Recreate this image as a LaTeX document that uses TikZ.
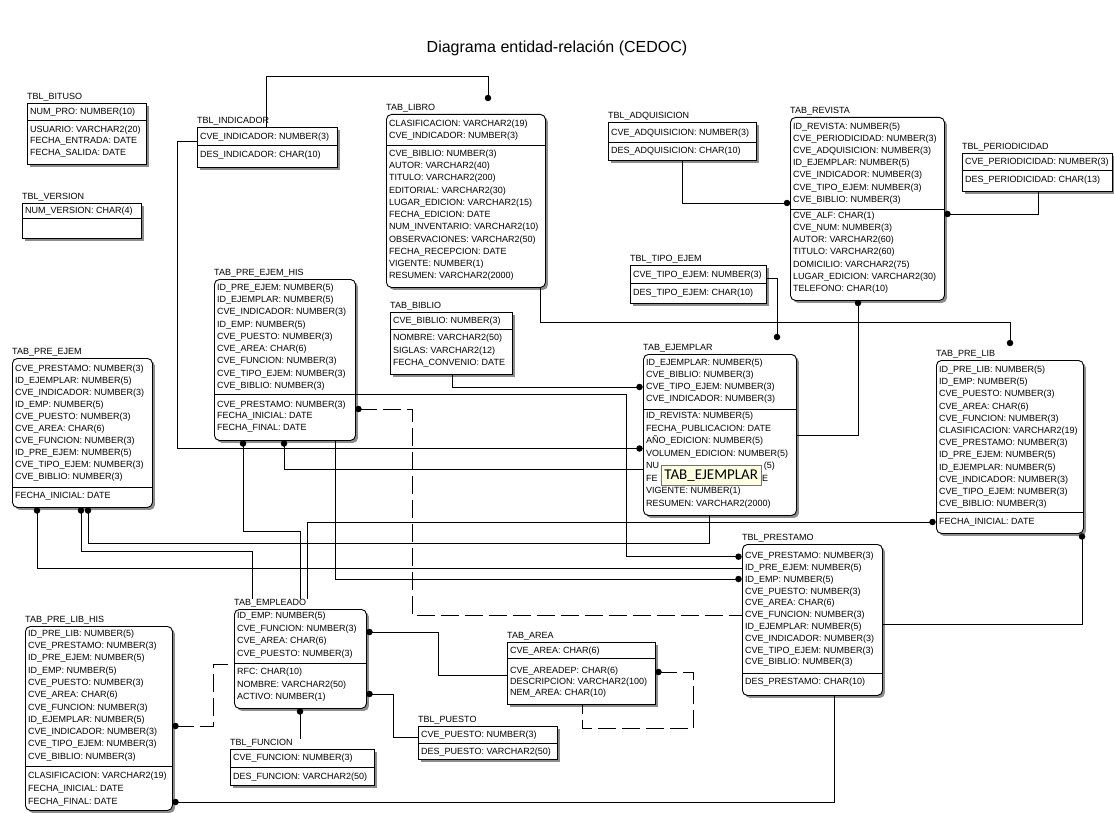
\documentclass[tikz,border=0pt]{standalone}
\usepackage{fontspec}
\setmainfont{Liberation Sans}
\newfontfamily\tipfont{Carlito}
\usetikzlibrary{shadows}
\definecolor{tipbg}{RGB}{255,255,225}

\tikzset{
  ent/.style={draw=black, line width=0.9pt, fill=white, inner sep=0pt, anchor=north west,
    drop shadow={shadow xshift=2.5pt, shadow yshift=-2.5pt, fill=black!45, opacity=1}},
  sq/.style={ent, rectangle},
  rd/.style={ent, rounded corners=5pt},
  lbl/.style={anchor=base west, inner sep=0pt, font=\fontsize{9}{11}\selectfont},
  rowtxt/.style={anchor=base west, inner sep=0pt},
  frag/.style={inner sep=0pt, font=\fontsize{9}{11}\selectfont},
  sepl/.style={line width=0.9pt},
  conn/.style={line width=0.9pt},
  dsh/.style={conn, dash pattern=on 18pt off 6pt},
  dotc/.style={fill=black, draw=none, circle, minimum size=6.5pt, inner sep=0pt},
  tip/.style={anchor=north west, draw=black!55, fill=tipbg, minimum width=100pt,
    minimum height=20pt, inner sep=0pt, font=\tipfont\fontsize{15}{17}\selectfont},
}

% \erbox{name}{style}{x}{y}{width}{height}{separator offset}{label}
\newcommand{\erbox}[8]{%
  \node[#2, minimum width=#5pt, minimum height=#6pt] (#1) at (#3,#4) {};
  \node[lbl] (#1-lbl) at ({#3},{#4-3.5}) {#8};
  \draw[sepl] ({#3},{#4+#7}) -- ({#3+#5},{#4+#7});
}
% \erows{name}{x}{first baseline}{line distance}{rows}
\newcommand{\erows}[5]{%
  \node[rowtxt] (#1) at (#2,#3) {\fontsize{9}{#4}\selectfont\begin{tabular}[t]{@{}l@{}}#5\end{tabular}};
}

\begin{document}
\begin{tikzpicture}[x=1pt,y=-1pt]
\fill[white] (0,0) rectangle (1114,813);
\useasboundingbox (0,0) rectangle (1114,813);

\node (title) at (557,48) {\fontsize{16}{19}\selectfont Diagrama entidad-relación (CEDOC)};

% ---------- entities ----------
\erbox{bituso}{sq}{27}{103}{119}{61}{17}{TBL\_BITUSO}
\erows{bituso-k}{30}{114.2}{11.8}{NUM\_PRO: NUMBER(10)}
\erows{bituso-n}{30}{132.2}{11.8}{USUARIO: VARCHAR2(20)\\FECHA\_ENTRADA: DATE\\FECHA\_SALIDA: DATE}

\erbox{version}{sq}{22}{203}{119}{35}{15}{TBL\_VERSION}
\erows{version-k}{25}{213.6}{12}{NUM\_VERSION: CHAR(4)}

\erbox{indicador}{sq}{197}{127}{140}{40}{18}{TBL\_INDICADOR}
\erows{indicador-k}{200}{139.9}{12}{CVE\_INDICADOR: NUMBER(3)}
\erows{indicador-n}{200}{157.5}{12}{DES\_INDICADOR: CHAR(10)}

\erbox{libro}{rd}{386}{114}{159}{173}{31}{TAB\_LIBRO}
\erows{libro-k}{389}{126.5}{11.7}{CLASIFICACION: VARCHAR2(19)\\CVE\_INDICADOR: NUMBER(3)}
\erows{libro-n}{389}{156.5}{12.24}{CVE\_BIBLIO: NUMBER(3)\\AUTOR: VARCHAR2(40)\\TITULO: VARCHAR2(200)\\EDITORIAL: VARCHAR2(30)\\LUGAR\_EDICION: VARCHAR2(15)\\FECHA\_EDICION: DATE\\NUM\_INVENTARIO: VARCHAR2(10)\\OBSERVACIONES: VARCHAR2(50)\\FECHA\_RECEPCION: DATE\\VIGENTE: NUMBER(1)\\RESUMEN: VARCHAR2(2000)}

\erbox{adquisicion}{sq}{608}{122}{148}{38}{20}{TBL\_ADQUISICION}
\erows{adquisicion-k}{611}{135.5}{12}{CVE\_ADQUISICION: NUMBER(3)}
\erows{adquisicion-n}{611}{153.9}{12}{DES\_ADQUISICION: CHAR(10)}

\erbox{revista}{rd}{790}{117}{154}{183}{92}{TAB\_REVISTA}
\erows{revista-k}{793}{129.2}{12.2}{ID\_REVISTA: NUMBER(5)\\CVE\_PERIODICIDAD: NUMBER(3)\\CVE\_ADQUISICION: NUMBER(3)\\ID\_EJEMPLAR: NUMBER(5)\\CVE\_INDICADOR: NUMBER(3)\\CVE\_TIPO\_EJEM: NUMBER(3)\\CVE\_BIBLIO: NUMBER(3)}
\erows{revista-n}{793}{218.2}{12.2}{CVE\_ALF: CHAR(1)\\CVE\_NUM: NUMBER(3)\\AUTOR: VARCHAR2(60)\\TITULO: VARCHAR2(60)\\DOMICILIO: VARCHAR2(75)\\LUGAR\_EDICION: VARCHAR2(30)\\TELEFONO: CHAR(10)}

\erbox{periodicidad}{sq}{962}{153}{150}{38}{17}{TBL\_PERIODICIDAD}
\erows{periodicidad-k}{965}{164.9}{12}{CVE\_PERIODICIDAD: NUMBER(3)}
\erows{periodicidad-n}{965}{182.2}{12}{DES\_PERIODICIDAD: CHAR(13)}

\erbox{tipoejem}{sq}{630}{265}{136}{38}{18}{TBL\_TIPO\_EJEM}
\erows{tipoejem-k}{633}{277.2}{12}{CVE\_TIPO\_EJEM: NUMBER(3)}
\erows{tipoejem-n}{633}{295.2}{12}{DES\_TIPO\_EJEM: CHAR(10)}

\erbox{preejemhis}{rd}{214}{279}{141}{161}{115}{TAB\_PRE\_EJEM\_HIS}
\erows{preejemhis-k}{217}{290.5}{12.25}{ID\_PRE\_EJEM: NUMBER(5)\\ID\_EJEMPLAR: NUMBER(5)\\CVE\_INDICADOR: NUMBER(3)\\ID\_EMP: NUMBER(5)\\CVE\_PUESTO: NUMBER(3)\\CVE\_AREA: CHAR(6)\\CVE\_FUNCION: NUMBER(3)\\CVE\_TIPO\_EJEM: NUMBER(3)\\CVE\_BIBLIO: NUMBER(3)}
\erows{preejemhis-n}{217}{407.2}{11.65}{CVE\_PRESTAMO: NUMBER(3)\\FECHA\_INICIAL: DATE\\FECHA\_FINAL: DATE}

\erbox{biblio}{sq}{390}{312}{122}{62}{17}{TAB\_BIBLIO}
\erows{biblio-k}{393}{323.2}{12}{CVE\_BIBLIO: NUMBER(3)}
\erows{biblio-n}{393}{340.5}{12.5}{NOMBRE: VARCHAR2(50)\\SIGLAS: VARCHAR2(12)\\FECHA\_CONVENIO: DATE}

\erbox{ejemplar}{rd}{643}{354}{153}{161}{55}{TAB\_EJEMPLAR}
\erows{ejemplar-k}{646}{365.5}{11.9}{ID\_EJEMPLAR: NUMBER(5)\\CVE\_BIBLIO: NUMBER(3)\\CVE\_TIPO\_EJEM: NUMBER(3)\\CVE\_INDICADOR: NUMBER(3)}
\erows{ejemplar-n}{646}{418.9}{12.5}{ID\_REVISTA: NUMBER(5)\\FECHA\_PUBLICACION: DATE\\AÑO\_EDICION: NUMBER(5)\\VOLUMEN\_EDICION: NUMBER(5)\\\mbox{}\\\mbox{}\\VIGENTE: NUMBER(1)\\RESUMEN: VARCHAR2(2000)}
% the two rows partly hidden behind the hover label: only their ends show
\node[frag, anchor=base west] (ejemplar-r5a) at (646,468.9) {NU};
\node[frag, anchor=base east] (ejemplar-r5b) at (775,468.9) {(5)};
\node[frag, anchor=base west] (ejemplar-r6a) at (646,481.4) {FE};
\node[frag, anchor=base west] (ejemplar-r6b) at (762,481.4) {E};

\erbox{preejem}{rd}{12}{358}{140}{149}{129}{TAB\_PRE\_EJEM}
\erows{preejem-k}{15}{371.5}{12.04}{CVE\_PRESTAMO: NUMBER(3)\\ID\_EJEMPLAR: NUMBER(5)\\CVE\_INDICADOR: NUMBER(3)\\ID\_EMP: NUMBER(5)\\CVE\_PUESTO: NUMBER(3)\\CVE\_AREA: CHAR(6)\\CVE\_FUNCION: NUMBER(3)\\ID\_PRE\_EJEM: NUMBER(5)\\CVE\_TIPO\_EJEM: NUMBER(3)\\CVE\_BIBLIO: NUMBER(3)}
\erows{preejem-n}{15}{498.2}{12}{FECHA\_INICIAL: DATE}

\erbox{prelib}{rd}{936}{360}{147}{173}{152}{TAB\_PRE\_LIB}
\erows{prelib-k}{939}{372.5}{12.2}{ID\_PRE\_LIB: NUMBER(5)\\ID\_EMP: NUMBER(5)\\CVE\_PUESTO: NUMBER(3)\\CVE\_AREA: CHAR(6)\\CVE\_FUNCION: NUMBER(3)\\CLASIFICACION: VARCHAR2(19)\\CVE\_PRESTAMO: NUMBER(3)\\ID\_PRE\_EJEM: NUMBER(5)\\ID\_EJEMPLAR: NUMBER(5)\\CVE\_INDICADOR: NUMBER(3)\\CVE\_TIPO\_EJEM: NUMBER(3)\\CVE\_BIBLIO: NUMBER(3)}
\erows{prelib-n}{939}{524.9}{12}{FECHA\_INICIAL: DATE}

\erbox{prestamo}{rd}{742}{544}{140}{151}{129}{TBL\_PRESTAMO}
\erows{prestamo-k}{745}{558.7}{11.8}{CVE\_PRESTAMO: NUMBER(3)\\ID\_PRE\_EJEM: NUMBER(5)\\ID\_EMP: NUMBER(5)\\CVE\_PUESTO: NUMBER(3)\\CVE\_AREA: CHAR(6)\\CVE\_FUNCION: NUMBER(3)\\ID\_EJEMPLAR: NUMBER(5)\\CVE\_INDICADOR: NUMBER(3)\\CVE\_TIPO\_EJEM: NUMBER(3)\\CVE\_BIBLIO: NUMBER(3)}
\erows{prestamo-n}{745}{684.9}{12}{DES\_PRESTAMO: CHAR(10)}

\erbox{prelibhis}{rd}{25}{626}{147}{184}{140}{TAB\_PRE\_LIB\_HIS}
\erows{prelibhis-k}{28}{636.2}{12.3}{ID\_PRE\_LIB: NUMBER(5)\\CVE\_PRESTAMO: NUMBER(3)\\ID\_PRE\_EJEM: NUMBER(5)\\ID\_EMP: NUMBER(5)\\CVE\_PUESTO: NUMBER(3)\\CVE\_AREA: CHAR(6)\\CVE\_FUNCION: NUMBER(3)\\ID\_EJEMPLAR: NUMBER(5)\\CVE\_INDICADOR: NUMBER(3)\\CVE\_TIPO\_EJEM: NUMBER(3)\\CVE\_BIBLIO: NUMBER(3)}
\erows{prelibhis-n}{28}{778}{13}{CLASIFICACION: VARCHAR2(19)\\FECHA\_INICIAL: DATE\\FECHA\_FINAL: DATE}

\erbox{empleado}{rd}{234}{609}{132}{99}{54}{TAB\_EMPLEADO}
\erows{empleado-k}{237}{618.9}{12.5}{ID\_EMP: NUMBER(5)\\CVE\_FUNCION: NUMBER(3)\\CVE\_AREA: CHAR(6)\\CVE\_PUESTO: NUMBER(3)}
\erows{empleado-n}{237}{674.2}{12.8}{RFC: CHAR(10)\\NOMBRE: VARCHAR2(50)\\ACTIVO: NUMBER(1)}

\erbox{area}{sq}{507}{642}{148}{62}{16}{TAB\_AREA}
\erows{area-k}{510}{653.9}{12}{CVE\_AREA: CHAR(6)}
\erows{area-n}{510}{673.2}{11.3}{CVE\_AREADEP: CHAR(6)\\DESCRIPCION: VARCHAR2(100)\\NEM\_AREA: CHAR(10)}

\erbox{puesto}{sq}{418}{726}{139}{33}{17}{TBL\_PUESTO}
\erows{puesto-k}{421}{737.2}{12}{CVE\_PUESTO: NUMBER(3)}
\erows{puesto-n}{421}{754.9}{12}{DES\_PUESTO: VARCHAR2(50)}

\erbox{funcion}{sq}{230}{749}{144}{36}{18}{TBL\_FUNCION}
\erows{funcion-k}{233}{760.9}{12}{CVE\_FUNCION: NUMBER(3)}
\erows{funcion-n}{233}{779.2}{12}{DES\_FUNCION: VARCHAR2(50)}

% ---------- relationship end points (child side) ----------
\node[dotc] (d1)  at (488,98) {};
\node[dotc] (d2)  at (639.5,448.5) {};
\node[dotc] (d3)  at (1010,343) {};
\node[dotc] (d4)  at (787,203) {};
\node[dotc] (d5)  at (947.5,214) {};
\node[dotc] (d6)  at (858,303) {};
\node[dotc] (d7)  at (777,337) {};
\node[dotc] (d8)  at (639.5,387) {};
\node[dotc] (d9)  at (738.5,556.7) {};
\node[dotc] (d10) at (243,443.5) {};
\node[dotc] (d11) at (284,443.5) {};
\node[dotc] (d12) at (738.5,579) {};
\node[dotc] (d13) at (358.5,409) {};
\node[dotc] (d14) at (932.5,522) {};
\node[dotc] (d15) at (88,510.5) {};
\node[dotc] (d16) at (81,510.5) {};
\node[dotc] (d17) at (37,510.5) {};
\node[dotc] (d18) at (1082,536.5) {};
\node[dotc] (d19) at (175.5,802) {};
\node[dotc] (d20) at (369.5,632) {};
\node[dotc] (d21) at (369.5,694) {};
\node[dotc] (d22) at (300,711.5) {};
\node[dotc] (d23) at (658.5,672) {};
\node[dotc] (d24) at (175.5,726) {};

% ---------- relationships ----------
\draw[conn] (indicador.north -| 266,0) -- (266,76) -| (d1.center);
\draw[conn] (indicador.west |- 0,141) -| (177,448.5) -- (d2.center);
\draw[conn] (libro.south -| 540,0) -- (540,322) -| (d3.center);
\draw[conn] (adquisicion.south -| 682,0) |- (d4.center);
\draw[conn] (periodicidad.south -| 1038,0) |- (d5.center);
\draw[conn] (ejemplar.east |- 0,435) -| (d6.center);
\draw[conn] (tipoejem.east |- 0,278) -| (d7.center);
\draw[conn] (biblio.south -| 452,0) |- (d8.center);
\draw[conn] (preejemhis.east |- 0,394.3) -| (626,556.7) -- (d9.center);
\draw[conn] (d10.center) |- (300,531) -- (empleado-lbl.north -| 300,0);
\draw[conn] (d11.center) |- (ejemplar.west |- 0,469);
\draw[conn] (preejemhis.south -| 335,0) |- (d12.center);
\draw[dsh] (d13.center) -| (412,615) -- (prestamo.west |- 0,615);
\draw[conn] (empleado-lbl.north -| 307,0) |- (d14.center);
\draw[conn] (ejemplar.south -| 709.5,0) |- (88,543.3) -- (d15.center);
\draw[conn] (empleado-lbl.north -| 252.6,0) |- (81,551.7) -- (d16.center);
\draw[conn] (prestamo.west |- 0,568) -| (d17.center);
\draw[conn] (prestamo.east |- 0,624) -| (d18.center);
\draw[conn] (prestamo.south -| 834,0) |- (d19.center);
\draw[conn] (d20.center) -| (438,675) -- (area.west |- 0,675);
\draw[conn] (d21.center) -| (393,737) -- (puesto.west |- 0,737);
\draw[conn] (d22.center) -- (funcion-lbl.north -| 300,0);
\draw[dsh] (d23.center) -| (693,728) -| (area.south -| 582,0);
\draw[dsh] (d24.center) -| (213,664) -- (empleado.west |- 0,664);

% ---------- hover label ----------
\node[tip] (tip) at (661,465) {TAB\_EJEMPLAR};
\end{tikzpicture}
\end{document}
